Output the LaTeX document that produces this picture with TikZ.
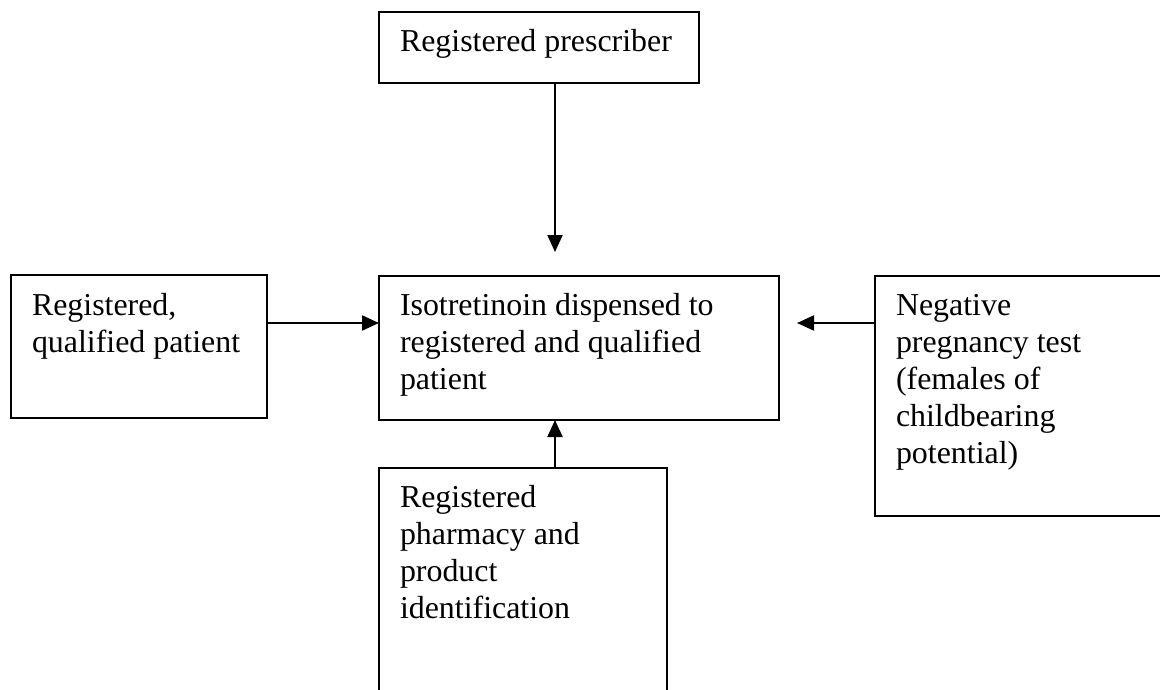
\documentclass[tikz,border=0pt]{standalone}
\usepackage{fontspec}
\setmainfont{Liberation Serif}
\usetikzlibrary{arrows.meta}
\tikzset{
  box/.style={draw=black, line width=2.2pt, rectangle, anchor=north west, inner sep=0pt, outer sep=0pt},
  lbl/.style={anchor=base west, inner sep=0pt, outer sep=0pt, font=\fontsize{31.9}{37.2}\selectfont},
  arr/.style={line width=2.2pt, -{Triangle[length=17pt,width=15pt]}}
}
\begin{document}
\begin{tikzpicture}[x=1pt,y=-1pt]
\clip (0,0) rectangle (1160,690);
\fill[white] (0,0) rectangle (1160,690);
% boxes
\node[box, minimum width=320pt, minimum height=71pt] (top) at (379,12) {};
\node[box, minimum width=400pt, minimum height=144pt] (center) at (379,276) {};
\node[box, minimum width=256pt, minimum height=143pt] (left) at (11,275) {};
\node[box, minimum width=310pt, minimum height=240pt] (right) at (875,276) {};
\node[box, minimum width=288pt, minimum height=240pt] (bottom) at (379,468) {};
% texts
\node[lbl] (ttop) at (400,52) {Registered prescriber};
\node[lbl] (tcenter) at (400,315) {\begin{tabular}[t]{@{}l@{}}Isotretinoin dispensed to\\registered and qualified\\patient\end{tabular}};
\node[lbl] (tleft) at (32,315) {\begin{tabular}[t]{@{}l@{}}Registered,\\qualified patient\end{tabular}};
\node[lbl] (tright) at (896,315) {\begin{tabular}[t]{@{}l@{}}Negative\\pregnancy test\\(females of\\childbearing\\potential)\end{tabular}};
\node[lbl] (tbottom) at (400,507) {\begin{tabular}[t]{@{}l@{}}Registered\\pharmacy and\\product\\identification\end{tabular}};
% connector helper coordinates
\coordinate (tipT) at (555,252);
\coordinate (rowY) at (0,323);
\coordinate (tipR) at (797,323);
\coordinate (colB) at (555,0);
% connectors
\draw[arr] (top.south -| tipT) -- (tipT);
\draw[arr] (left.east |- rowY) -- (center.west |- rowY);
\draw[arr] (right.west |- tipR) -- (tipR);
\draw[arr] (bottom.north -| colB) -- (center.south -| colB);
\end{tikzpicture}
\end{document}
